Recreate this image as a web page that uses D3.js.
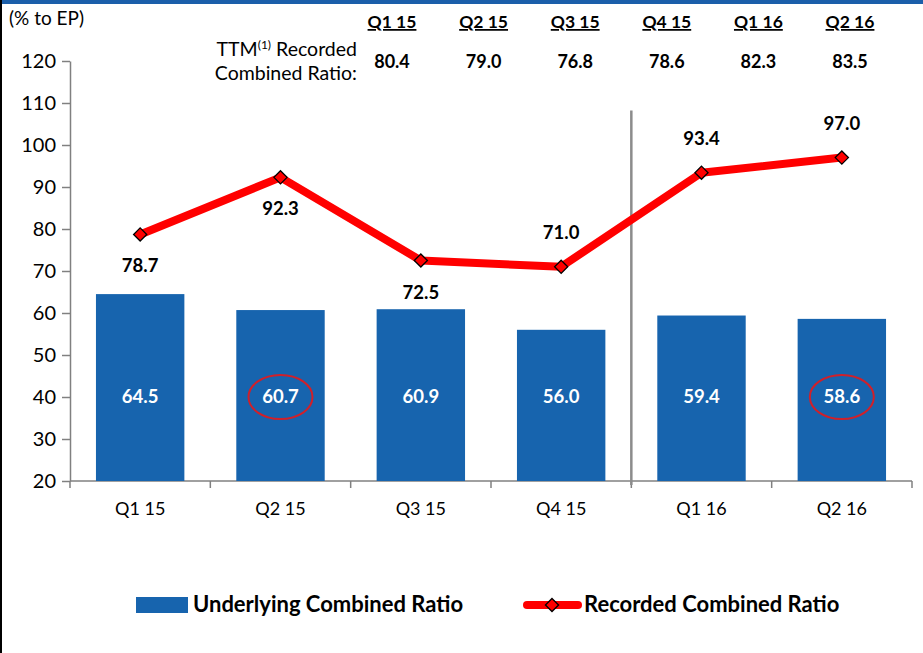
<!DOCTYPE html>
<html>
<head>
<meta charset="utf-8">
<script src="https://cdn.jsdelivr.net/npm/d3@7"></script>
<style>
  body { margin: 0; background: #fff; }
  svg text { font-family: Lato, "Open Sans", sans-serif; }
</style>
</head>
<body>
<div id="chart"></div>
<script>
// data
const quarters = ["Q1 15", "Q2 15", "Q3 15", "Q4 15", "Q1 16", "Q2 16"];
const underlying = [64.5, 60.7, 60.9, 56.0, 59.4, 58.6];
const recorded = [78.7, 92.3, 72.5, 71.0, 93.4, 97.0];
const ttm = ["80.4", "79.0", "76.8", "78.6", "82.3", "83.5"];
const yTicks = [20, 30, 40, 50, 60, 70, 80, 90, 100, 110, 120];
const circled = ["Q2 15", "Q2 16"];
const labelBelow = ["Q1 15", "Q2 15", "Q3 15"];

const W = 923, H = 653;
const margin = {top: 61, right: 11, bottom: 172, left: 70};
const width = W - margin.left - margin.right;
const height = H - margin.top - margin.bottom;

const svg = d3.select("#chart").append("svg")
    .attr("width", W)
    .attr("height", H);

// frame bits
svg.append("rect").attr("x", 0).attr("y", 0).attr("width", W).attr("height", 4).attr("fill", "#1B5FAA");
svg.append("rect").attr("x", 0).attr("y", 0).attr("width", 2).attr("height", H).attr("fill", "#000");

const g = svg.append("g")
    .attr("transform", "translate(" + margin.left + "," + margin.top + ")");

const x = d3.scaleBand().domain(quarters).range([0, width]).paddingInner(0.37).paddingOuter(0.185);
const xb = d3.scaleBand().domain(quarters).range([0, width]);
const y = d3.scaleLinear().domain([20, 120]).range([height, 0]);

// y axis
const yAxis = g.append("g")
    .call(d3.axisLeft(y).tickValues(yTicks).tickSize(8).tickSizeOuter(0).tickPadding(6));
yAxis.select(".domain").attr("stroke", "#808080").attr("stroke-width", 1.5);
yAxis.selectAll(".tick line").attr("stroke", "#808080").attr("stroke-width", 1.5);
yAxis.selectAll("text").attr("font-size", 20).attr("fill", "#000");

// x axis with ticks at category boundaries
g.append("line")
    .attr("x1", 0).attr("x2", width)
    .attr("y1", height).attr("y2", height)
    .attr("stroke", "#808080").attr("stroke-width", 1.5);
const bounds = quarters.map(q => xb(q)).concat([width]);
g.selectAll(".xtick").data(bounds).enter().append("line")
    .attr("class", "xtick")
    .attr("x1", d => d).attr("x2", d => d)
    .attr("y1", height).attr("y2", height + 7)
    .attr("stroke", "#808080").attr("stroke-width", 1.5);
g.selectAll(".xlabel").data(quarters).enter().append("text")
    .attr("class", "xlabel")
    .attr("x", d => xb(d) + xb.bandwidth() / 2)
    .attr("y", height + 34)
    .attr("text-anchor", "middle")
    .attr("font-size", 18)
    .text(d => d);

// separator between years
g.append("line")
    .attr("x1", xb("Q1 16")).attr("x2", xb("Q1 16"))
    .attr("y1", y(108.2)).attr("y2", height + 4)
    .attr("stroke", "#8c8c8c").attr("stroke-width", 2.5);

// bars
g.selectAll(".bar").data(underlying).enter().append("rect")
    .attr("class", "bar")
    .attr("x", (d, i) => x(quarters[i]))
    .attr("y", d => y(d))
    .attr("width", x.bandwidth())
    .attr("height", d => height - y(d))
    .attr("fill", "#1764AE");

g.selectAll(".barlabel").data(underlying).enter().append("text")
    .attr("class", "barlabel")
    .attr("x", (d, i) => xb(quarters[i]) + xb.bandwidth() / 2)
    .attr("y", y(40) + 6)
    .attr("text-anchor", "middle")
    .attr("font-size", 18.5)
    .attr("font-weight", "bold")
    .attr("fill", "#fff")
    .text(d => d.toFixed(1));

g.selectAll(".ring").data(circled).enter().append("ellipse")
    .attr("class", "ring")
    .attr("cx", d => xb(d) + xb.bandwidth() / 2)
    .attr("cy", y(40))
    .attr("rx", 32).attr("ry", 22)
    .attr("fill", "none")
    .attr("stroke", "#D0202A").attr("stroke-width", 2);

// recorded line
const cx = (d, i) => xb(quarters[i]) + xb.bandwidth() / 2;
const line = d3.line().x(cx).y(d => y(d));
g.append("path").datum(recorded)
    .attr("d", line)
    .attr("fill", "none")
    .attr("stroke", "#FF0000")
    .attr("stroke-width", 8)
    .attr("stroke-linejoin", "round");

const diamond = d3.symbol().type(d3.symbolDiamond2).size(110);
g.selectAll(".marker").data(recorded).enter().append("path")
    .attr("class", "marker")
    .attr("d", diamond)
    .attr("transform", (d, i) => "translate(" + cx(d, i) + "," + y(d) + ")")
    .attr("fill", "#FF0000")
    .attr("stroke", "#000")
    .attr("stroke-width", 1.3);

g.selectAll(".linelabel").data(recorded).enter().append("text")
    .attr("class", "linelabel")
    .attr("x", cx)
    .attr("y", (d, i) => labelBelow.includes(quarters[i]) ? y(d) + 38 : y(d) - 28)
    .attr("text-anchor", "middle")
    .attr("font-size", 18.5)
    .attr("font-weight", "bold")
    .text(d => d.toFixed(1));

// TTM header table
const colX = d3.scalePoint().domain(quarters).range([392, 850]);
svg.selectAll(".head").data(quarters).enter().append("text")
    .attr("class", "head")
    .attr("x", d => colX(d))
    .attr("y", 28)
    .attr("text-anchor", "middle")
    .attr("font-size", 17.5)
    .attr("font-weight", "bold")
    .attr("text-decoration", "underline")
    .text(d => d);
svg.selectAll(".ttm").data(ttm).enter().append("text")
    .attr("class", "ttm")
    .attr("x", (d, i) => colX(quarters[i]))
    .attr("y", 68)
    .attr("text-anchor", "middle")
    .attr("font-size", 18)
    .attr("font-weight", "bold")
    .text(d => d);

const ttmLbl = svg.append("text")
    .attr("x", 357).attr("y", 56)
    .attr("text-anchor", "end")
    .attr("font-size", 19.5);
ttmLbl.append("tspan").text("TTM");
ttmLbl.append("tspan").attr("font-size", 12).attr("dy", -7).text("(1)");
ttmLbl.append("tspan").attr("dy", 7).text(" Recorded");
svg.append("text")
    .attr("x", 357).attr("y", 80)
    .attr("text-anchor", "end")
    .attr("font-size", 19.5)
    .text("Combined Ratio:");

svg.append("text")
    .attr("x", 9).attr("y", 25)
    .attr("font-size", 19)
    .text("(% to EP)");

// legend
const leg = svg.append("g");
leg.append("rect").attr("x", 136).attr("y", 597).attr("width", 52).attr("height", 16).attr("fill", "#1764AE");
leg.append("text").attr("x", 193).attr("y", 612)
    .attr("font-size", 22).attr("font-weight", "bold").text("Underlying Combined Ratio");
leg.append("line").attr("x1", 527).attr("x2", 578).attr("y1", 605).attr("y2", 605)
    .attr("stroke", "#FF0000").attr("stroke-width", 8).attr("stroke-linecap", "round");
leg.append("path").attr("d", d3.symbol().type(d3.symbolDiamond2).size(110))
    .attr("transform", "translate(552,605)")
    .attr("fill", "#FF0000").attr("stroke", "#000").attr("stroke-width", 1.3);
leg.append("text").attr("x", 584).attr("y", 612)
    .attr("font-size", 22).attr("font-weight", "bold").text("Recorded Combined Ratio");
</script>
</body>
</html>
